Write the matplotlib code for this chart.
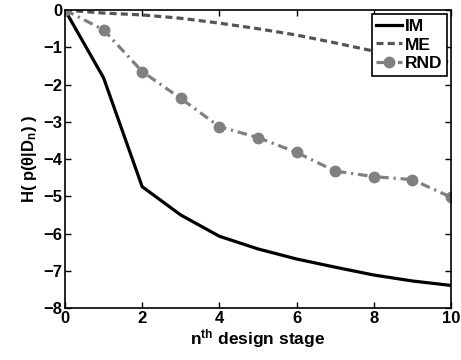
import matplotlib
matplotlib.use("Agg")
import matplotlib.pyplot as plt

# Data
stage = [0, 1, 2, 3, 4, 5, 6, 7, 8, 9, 10]
im = [0, -1.82, -4.74, -5.5, -6.07, -6.41, -6.68, -6.9, -7.11, -7.27, -7.39]
me = [0, -0.08, -0.13, -0.22, -0.35, -0.5, -0.67, -0.88, -1.1, -1.28, -1.4]
rnd = [0, -0.53, -1.65, -2.37, -3.13, -3.42, -3.82, -4.32, -4.47, -4.55, -5.02]

plt.rcParams["font.family"] = ["Liberation Sans", "DejaVu Sans"]
plt.rcParams["font.weight"] = "bold"
plt.rcParams["mathtext.fontset"] = "custom"
plt.rcParams["mathtext.rm"] = "Liberation Sans:bold"
plt.rcParams["mathtext.it"] = "Liberation Sans:bold"
plt.rcParams["mathtext.bf"] = "Liberation Sans:bold"

fig = plt.figure(figsize=(4.61, 3.6), dpi=100)
ax = fig.add_axes([0.141, 0.144, 0.837, 0.828])

ax.plot(stage, im, color="black", linestyle="-", linewidth=2.3, label="IM")
ax.plot(stage, me, color="#555555", linestyle=(0, (2.2, 1.3)), linewidth=2.3, label="ME")
ax.plot(stage, rnd, color="#808080", linestyle=(0, (3, 1.5, 0.7, 1.5)), linewidth=2.3,
        marker="o", markersize=7.5, label="RND")

ax.set_xlim(0, 10)
ax.set_ylim(-8, 0)
ax.set_xticks([0, 2, 4, 6, 8, 10])
ax.set_yticks(range(-8, 1))
ax.tick_params(direction="in", top=True, right=True, labelsize=12, width=1, length=4, pad=2)
for lab in ax.get_xticklabels() + ax.get_yticklabels():
    lab.set_fontweight("bold")
for s in ax.spines.values():
    s.set_linewidth(1.2)

ax.set_xlabel("n$^{th}$ design stage", fontsize=12.5, fontweight="bold", labelpad=1)
ax.set_ylabel("H( p(\u03b8|D$_n$) )", fontsize=12, fontweight="bold", labelpad=3)

leg = ax.legend(loc="upper right", fancybox=False, edgecolor="black", framealpha=1,
                prop={"weight": "bold", "size": 12.5}, handlelength=1.5,
                handletextpad=0.15, borderpad=0.25, labelspacing=0.2,
                borderaxespad=0.25)
leg.get_frame().set_linewidth(1.2)

fig.savefig("out.png", dpi=100)
